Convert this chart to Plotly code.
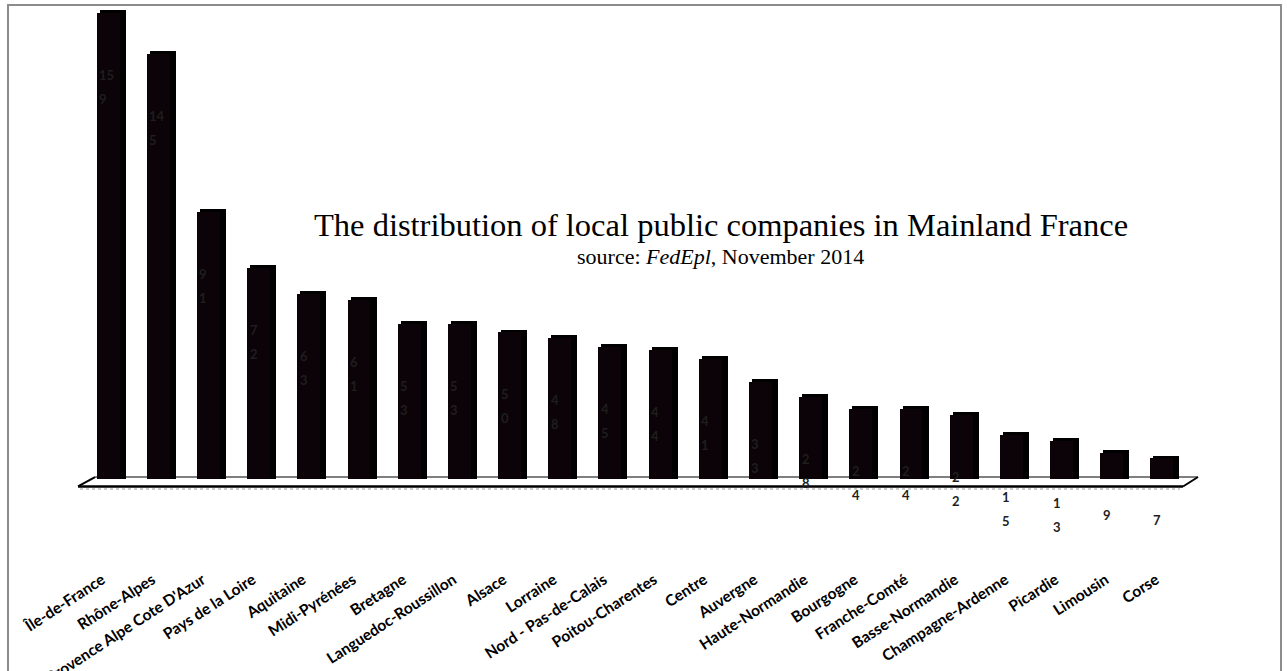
import plotly.graph_objects as go

regions = ["Île-de-France", "Rhône-Alpes", "Provence Alpe Cote D'Azur", "Pays de la Loire",
           "Aquitaine", "Midi-Pyrénées", "Bretagne", "Languedoc-Roussillon", "Alsace", "Lorraine",
           "Nord - Pas-de-Calais", "Poitou-Charentes", "Centre", "Auvergne", "Haute-Normandie",
           "Bourgogne", "Franche-Comté", "Basse-Normandie", "Champagne-Ardenne", "Picardie",
           "Limousin", "Corse"]
companies = [159, 145, 91, 72, 63, 61, 53, 53, 50, 48, 45, 44, 41, 33, 28, 24, 24, 22, 15, 13, 9, 7]

W, H = 1287, 671
L, R, T, B = 86, 97, 10, 191.5
PW, PH = W - L - R, H - T - B
YMAX = 160.0
DEPTH = 1.0  # 3-D depth of bars in value units (style)


def px(x):
    return (x - L) / PW


def py(y):
    return (H - B - y) / PH


fig = go.Figure()
fig.add_trace(go.Bar(x=regions, y=[v + DEPTH for v in companies], offset=-0.229, width=0.518,
                     marker=dict(color="#000000", line=dict(width=0)), hoverinfo="skip"))
fig.add_trace(go.Bar(x=regions, y=companies, offset=-0.289, width=0.458,
                     marker=dict(color="#0b0307", line=dict(width=0)),
                     hovertemplate="%{x}: %{y}<extra></extra>"))

annotations = []
for cat, v in zip(regions, companies):
    s = str(v)
    lines = [s[:-1], s[-1]] if len(s) > 1 else [s]
    for k, line in enumerate(lines):
        annotations.append(dict(x=cat, y=v, xref="x", yref="y", text=line, showarrow=False,
                                xanchor="left", yanchor="top", xshift=-14, yshift=-52 - 24 * k,
                                font=dict(family="Lato", size=13, color="#1e1e1e", weight="bold")))

annotations.append(dict(x=px(721), y=py(225), xref="paper", yref="paper",
                        text="The distribution of local public companies in Mainland France",
                        showarrow=False, xanchor="center", yanchor="middle",
                        font=dict(family="Liberation Serif", size=32.5, color="#000000")))
annotations.append(dict(x=px(721), y=py(257), xref="paper", yref="paper",
                        text="source: <i>FedEpl</i>, November 2014",
                        showarrow=False, xanchor="center", yanchor="middle",
                        font=dict(family="Liberation Serif", size=22, color="#000000")))

shapes = [
    dict(type="rect", xref="paper", yref="paper", x0=px(8), x1=px(1281), y0=py(5), y1=py(700),
         line=dict(color="#8c8c8c", width=2), fillcolor="rgba(0,0,0,0)", layer="below"),
    dict(type="line", xref="paper", yref="paper", x0=px(95), x1=px(1198), y0=py(477.5), y1=py(477.5),
         line=dict(color="#555555", width=1.5), layer="below"),
    dict(type="line", xref="paper", yref="paper", x0=px(78), x1=px(1183), y0=py(487), y1=py(487),
         line=dict(color="#000000", width=2.5), layer="below"),
    dict(type="line", xref="paper", yref="paper", x0=px(78), x1=px(95), y0=py(487), y1=py(477.5),
         line=dict(color="#000000", width=2), layer="below"),
    dict(type="line", xref="paper", yref="paper", x0=px(1183), x1=px(1198), y0=py(487), y1=py(477.5),
         line=dict(color="#000000", width=2), layer="below"),
    dict(type="line", xref="paper", yref="paper", x0=px(80), x1=px(1180), y0=py(489.5), y1=py(489.5),
         line=dict(color="#999999", width=1, dash="dot"), layer="below"),
]

fig.update_layout(
    width=W, height=H,
    margin=dict(l=L, r=R, t=T, b=B, pad=0, autoexpand=False),
    paper_bgcolor="white", plot_bgcolor="rgba(0,0,0,0)",
    barmode="overlay", bargap=0,
    showlegend=False,
    annotations=annotations,
    shapes=shapes,
    xaxis=dict(type="category", range=[-0.5, len(regions) - 0.5], showgrid=False, zeroline=False,
               showline=False, ticks="", tickangle=-33, ticklabelstandoff=88, ticklabelshift=-9,
               automargin=False,
               tickfont=dict(family="Lato", size=15.5, color="#000000", weight="bold")),
    yaxis=dict(range=[0, YMAX], visible=False, showgrid=False, zeroline=False, automargin=False),
)

fig.write_html("out.html")
